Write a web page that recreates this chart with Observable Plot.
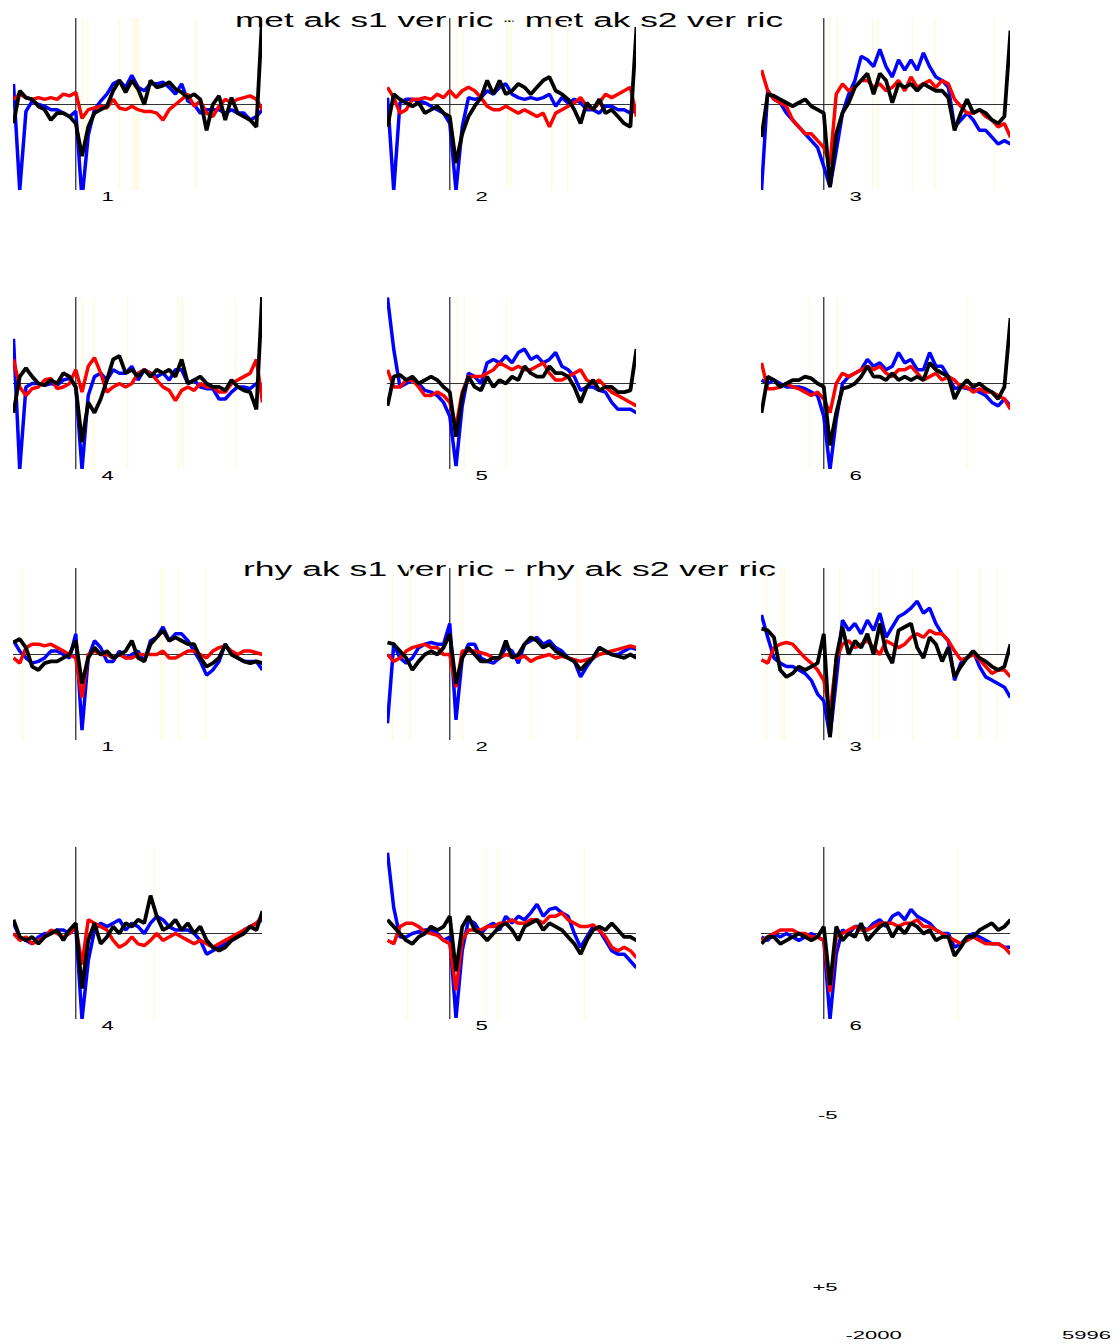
<!DOCTYPE html>
<html>
<head>
<meta charset="utf-8">
<script src="https://cdn.jsdelivr.net/npm/d3@7"></script>
<script src="https://cdn.jsdelivr.net/npm/@observablehq/plot@0.6"></script>
<style>
  html, body { margin: 0; padding: 0; background: #ffffff; }
  #root { position: relative; width: 1120px; height: 1344px; overflow: hidden; background: #ffffff;
          font-family: "Liberation Sans", Arial, sans-serif; }
  #root > svg { position: absolute; }
</style>
</head>
<body>
<div id="root"></div>
<script>
// ---------------- DATA ----------------
const times = [-2000,-1800,-1600,-1400,-1200,-1000,-800,-600,-400,-200,0,200,400,600,800,1000,1200,1400,1600,1800,2000,2200,2400,2600,2800,3000,3200,3400,3600,3800,4000,4200,4400,4600,4800,5000,5200,5400,5600,5800,5996];

const titles = ["met ak s1 ver ric - met ak s2 ver ric", "rhy ak s1 ver ric - rhy ak s2 ver ric"];
const panelNumbers = ["1","2","3","4","5","6"];
const scaleYTicks = [{v: -5, s: "-5"}, {v: 5, s: "+5"}];
const scaleXTicks = [{t: -2000, s: "-2000"}, {t: 5996, s: "5996"}];

// met condition, channels 1..6 (values in µV, positive plotted downward)
const met1Blue  = [-1.2,5,0.4,-0.2,0,0.1,0.3,0.3,0.5,0.7, 0.4,5.5,1.8,0.3,-0.2,-0.6,-1.2,-1.4,-1.0,-1.7, -1.0,-0.8,-1.2,-1.2,-1.3,-1.0,-0.6,-1.2,-0.2,0, 0.5,0.3,0.3,0.3,0.5,0.3,0.5,0.5,0.9,0.7, 0.3];
const met1Red   = [-0.3,-0.6,-0.4,-0.3,-0.4,-0.3,-0.4,-0.3,-0.6,-0.5, -0.7,0.8,0.3,0.2,0.1,0.2,-0.3,0.2,0.3,0.1, 0.3,0.4,0.4,0.5,0.9,0.3,0,-0.3,-0.6,0.1, -0.2,0.5,0.7,0.1,-0.3,-0.1,-0.3,-0.4,-0.5,-0.3, 0.3];
const met1Black = [1.1,-0.8,-0.4,-0.3,0.1,0.3,0.9,0.5,0.5,0.7, 1.1,3.0,1.3,0.5,0.3,0.1,-0.8,-1.4,-0.7,-1.4, -0.9,0,-1.4,-1.0,-1.1,-1.3,-0.9,-0.7,-0.4,-0.6, -0.3,1.5,0,-0.5,0.9,-0.4,0.5,0.7,0.9,1.3, -5.5];

const met2Blue  = [-0.4,5,-0.1,-0.3,-0.3,-0.2,-0.1,0.1,0.3,0.5, 1.1,5,1.3,-0.4,-0.3,-0.4,-0.8,-0.6,-1.0,-1.2, -0.6,-0.4,-0.3,-0.4,-0.3,-0.4,-0.6,0.1,-0.4,-0.1, -0.3,-0.1,0.3,0.3,0.5,0.1,0.1,0.3,0.3,0.5, 0.3];
const met2Red   = [-1.0,-0.4,0.5,0.3,-0.3,-0.3,-0.4,-0.3,-0.6,-0.4, -0.8,-0.4,-0.8,-1.0,-0.8,-0.4,0.1,0.3,0.3,0.1, 0.3,0.5,0.3,0.5,0.7,0.5,1.3,0.5,0.3,0.1, -0.1,-0.4,0.1,0.3,-0.1,-0.6,-0.4,-0.6,-0.8,-1.0, 0.7];
const met2Black = [1.3,-0.6,-0.3,-0.1,0.1,-0.1,0.5,0.3,0.1,0.5, 0.7,3.4,1.7,0.7,0.1,-0.4,-1.4,-0.6,-1.4,-0.6, -0.8,-1.2,-1.0,-0.6,-1.0,-1.4,-1.6,-0.8,-0.6,-0.3, 0.3,1.1,-0.1,0.3,-0.3,0.5,0.3,0.7,1.1,1.3, -4.5];

const met3Blue  = [5,-0.8,-0.3,-0.1,0.5,0.9,1.3,1.7,2.1,2.5, 3.6,4.8,2.7,0.5,-0.6,-1.4,-2.8,-2.6,-2.2,-3.2, -2.2,-1.6,-2.6,-2.0,-2.6,-2.0,-3.0,-2.2,-1.6,-1.4, -1.0,1.3,0.9,0.5,0.9,1.5,1.5,1.9,2.3,2.1, 2.3];
const met3Red   = [-2.0,-0.8,-0.3,-0.1,0.1,0.9,1.3,1.7,1.7,2.1, 2.5,3.5,-0.6,-1.2,-0.8,-1.0,-1.4,-1.4,-1.0,-1.2, -0.8,-1.0,-1.4,-0.8,-1.6,-1.0,-1.2,-1.4,-1.0,-1.4, -1.2,-0.3,0.1,0.5,0.5,0.3,0.7,0.9,1.3,1.1, 1.9];
const met3Black = [1.9,-0.6,-0.5,-0.3,-0.1,0.1,-0.1,-0.3,0.1,0.3, 0.5,4.8,1.7,0.5,-0.1,-1.0,-1.4,-1.8,-0.6,-1.8, -1.4,-0.1,-1.2,-1.0,-1.2,-0.8,-1.2,-1.0,-0.8,-0.8, -0.4,1.5,0.5,-0.3,0.5,0.3,0.5,0.9,1.1,0.7, -4.3];

const met4Blue  = [-2.6,5,0.2,0,0,0.1,0,0.1,-0.2,-0.3, 0.2,5,0.7,-0.4,-0.6,-0.2,-0.8,-0.6,-0.6,-1.0, -0.2,-0.8,-0.6,-0.4,-0.6,-0.2,-0.8,-0.8,0,-0.2, 0.2,0.3,0.3,0.9,0.9,0.5,0.2,0.2,0.3,0, 0.2];
const met4Red   = [-1.4,0.2,0.7,0.3,0.2,-0.2,-0.3,0.3,0.2,0, -0.8,0.5,-1.0,-1.5,-0.6,0.5,0.2,0,0.2,0, -0.6,-0.8,-0.6,-0.2,0.2,0.4,1.0,0.4,0.2,0.4, 0,0.2,0.2,0.5,0.5,0,-0.2,-0.4,-0.6,-1.4, 1.1];
const met4Black = [1.7,-0.4,-0.9,-0.4,0,0.1,-0.2,0,-0.6,-0.4, 0.2,3.4,1.1,1.7,0.9,-0.2,-1.4,-1.6,-0.6,-0.8, -0.4,-0.8,-0.4,-0.8,-0.6,-0.8,-0.4,-1.4,0,-0.2, -0.4,0,0.2,0.2,0.4,-0.2,0.2,0.4,0.5,1.5, -5.5];

const met5Blue  = [-5,-2.0,0.2,0,-0.2,0,0.4,0.5,0.7,1.1, 1.9,4.8,1.3,-0.6,-0.4,0,-1.2,-1.4,-1.2,-1.6, -1.2,-1.8,-2.0,-1.4,-1.6,-1.2,-1.4,-1.8,-1.0,-0.8, -0.4,0.4,0.2,0.2,0.4,0.5,1.1,1.5,1.5,1.5, 1.7];
const met5Red   = [-0.8,0.2,0.2,-0.2,-0.2,0.2,0.7,0.7,0.5,0.7, 1.1,2.5,0.5,-0.4,-0.4,-0.4,-0.6,-0.8,-1.2,-1.0, -0.8,-1.0,-0.8,-0.8,-1.0,-1.2,-0.6,-0.2,-0.2,-0.4, -0.6,-0.8,-0.2,0,-0.2,0.2,0.5,0.7,0.9,1.1, 1.3];
const met5Black = [1.3,-0.4,-0.5,-0.2,-0.4,0,-0.2,-0.4,-0.2,0.2, 0.5,3.1,0.7,-0.4,0.2,0.4,-0.4,0.2,-0.2,0, -0.4,-0.2,-1.0,-0.6,-0.4,-0.4,-1.0,-0.6,-0.6,-0.4, 0.2,1.1,0.2,-0.2,0.4,0.2,0.2,0.5,0.5,0.4, -2.0];

const met6Blue  = [-0.2,0,-0.2,0,0.2,0.2,0.2,0.3,0.5,0.7, 1.9,5,2.1,0,-0.4,-0.6,-0.8,-1.4,-1.0,-1.2, -0.8,-1.0,-1.8,-1.2,-1.4,-0.8,-0.8,-1.8,-1.0,-1.0, -0.4,0.3,0.2,0.3,0.3,0.5,0.7,1.1,1.3,0.9, 1.3];
const met6Red   = [-1.2,0.3,0.3,0.2,0,0.2,0.3,0.5,0.7,0.5, 0.9,1.7,0,-0.6,-0.4,-0.6,-0.8,-1.0,-0.8,-1.0, -0.6,-0.4,-0.8,-0.8,-1.0,-0.6,-0.2,-0.4,-0.6,-0.2, -0.4,-0.2,0.2,0.2,0.5,0.3,0.5,0.5,0.7,0.9, 1.5];
const met6Black = [1.7,-0.4,-0.2,0.2,0,-0.2,-0.2,-0.4,-0.3,0, 0.2,3.6,1.7,0.3,0.2,0,-0.4,-1.0,-0.4,-0.4, -0.2,-0.6,-0.2,-0.4,-0.2,-0.4,-0.2,-1.2,-0.8,-0.6, -0.4,0.9,0.2,-0.2,0.2,0,0.3,0.5,0.9,0.2, -3.8];

// rhy condition, channels 1..6
const rhy1Blue  = [-0.8,-0.2,0.2,0.5,0.4,0.2,-0.2,-0.2,0,0.2, -1.2,4.4,0.2,-0.8,-0.4,0.4,0.4,-0.2,0.2,0, -0.2,0.4,-0.8,-1.0,-1.6,-0.8,-1.2,-1.2,-0.8,-0.2, 0.4,1.2,0.9,0.4,-0.6,0,0.2,0.4,0.4,0.4, 0.9];
const rhy1Red   = [0.2,0.5,-0.4,-0.6,-0.6,-0.5,-0.6,-0.4,-0.2,0, 0.2,2.5,0,-0.2,0,0,0.2,0,0.2,0.2, 0,0,0,0,-0.2,0.2,0.2,0,-0.2,-0.2, 0,0.2,-0.2,-0.4,-0.5,-0.2,0,-0.2,-0.2,-0.1, 0];
const rhy1Black = [-0.7,-0.9,-0.4,0.7,0.9,0.5,0.4,0.4,0.2,0, -0.8,1.7,0.2,-0.4,0,-0.2,0.2,0,-0.2,-0.8, 0.2,0.4,-0.6,-1.0,-1.4,-0.8,-1.0,-0.8,-0.6,-0.6, 0.2,0.7,0.5,0.2,-0.6,0,0.2,0.4,0.5,0.4, 0.5];

const rhy2Blue  = [4.0,-0.6,0.2,0.5,0.2,-0.4,-0.6,-0.7,-0.6,-0.6, -1.8,3.8,0.2,-0.6,-0.6,0.2,0.4,0.5,0.2,-0.4, -0.2,0.5,-0.6,-0.8,-1.0,-0.6,-0.8,-0.4,-0.2,0.2, 0.4,1.3,0.7,0.2,-0.4,-0.2,0,0,-0.2,-0.4, -0.3];
const rhy2Red   = [0,0.4,0.2,-0.2,-0.4,-0.5,-0.6,-0.4,-0.4,0, 0,1.9,-0.2,-0.2,-0.2,-0.1,0,0.2,0.2,0, 0.1,0.2,0.1,0.4,0.2,0.1,0,0.2,0.1,0.2, 0.3,0.4,0.3,0.2,0,-0.1,-0.2,-0.3,-0.4,-0.5, -0.4];
const rhy2Black = [-0.7,-0.6,-0.2,0.2,0.9,0.4,0,-0.2,0,-0.4, -1.2,1.7,0.2,-0.4,0,0.4,0.4,0.2,0.2,-0.8, 0.2,0,-0.6,-1.0,-0.8,-0.4,-0.6,-0.2,0,0.2, 0.4,0.9,0.5,0.2,-0.4,-0.2,0,0.1,0.2,0, 0.2];

const rhy3Blue  = [-2.3,-1.0,0.2,0.5,0.7,0.7,0.9,1.1,1.5,2.3, 2.7,4.8,1.5,-2.0,-1.4,-1.8,-1.2,-2.0,-1.4,-2.4, -1.0,-1.6,-2.2,-2.4,-2.7,-3.1,-2.4,-2.7,-1.8,-1.2, -0.8,1.5,0.5,0.2,-0.2,0.7,1.3,1.5,1.7,1.9, 2.5];
const rhy3Red   = [0.3,0.5,-0.4,-0.6,-0.7,-0.6,-0.2,0.2,0.5,0.9, 1.5,3.4,0.3,-0.6,-0.8,-0.4,-0.6,-0.8,-0.4,0, -0.8,-0.6,-0.4,-0.6,-1.0,-1.2,-1.0,-1.4,-1.2,-1.2, -0.8,-0.2,0.3,0.2,0,0.3,0.7,1.1,0.9,0.9, 1.3];
const rhy3Black = [-1.5,-1.4,-1.0,0.9,1.3,1.1,0.7,0.9,0.7,0.5, -1.2,4.8,0.2,-1.6,0,-0.8,-0.4,-1.2,0,-1.8, -0.2,0.5,-1.4,-1.6,-1.8,-0.4,0.2,-1.0,-0.6,0.4, -0.4,1.3,0.7,0.2,-0.2,0.2,0.4,0.7,0.9,0.7, -0.6];

const rhy4Blue  = [-0.6,0.2,0.4,0.6,0.2,0,0,-0.2,-0.2,0, -0.4,5,1.6,-0.2,-0.6,-0.4,-0.6,-0.8,-0.2,-0.6, -0.4,0,-0.6,-1.0,-0.8,-0.4,-0.2,-0.2,-0.2,0, 0.4,1.2,1.0,0.8,0.6,0.4,0.2,-0.2,-0.4,-0.6, -0.8];
const rhy4Red   = [0,0.4,0.2,0.6,0.4,0.2,-0.2,0,0.2,0, -0.4,1.8,-0.8,-0.6,-0.4,-0.2,0.4,0.8,0.6,0.2, 0.6,0.7,0.4,0,0.4,0.2,0,0.2,0.4,0.6, 0.4,0.6,0.8,0.6,0.4,0.2,0,-0.2,-0.4,-0.6, -1.0];
const rhy4Black = [-0.8,0.2,0.4,0.2,0.6,0.2,0,-0.2,0.4,-0.2, -0.6,3.2,0.4,-0.6,0.6,0.2,-0.4,0,-0.6,-0.4, -0.8,-0.6,-2.2,-1.0,-0.2,-0.4,-0.8,-0.2,-0.6,0, -0.4,0.4,0.8,1.0,0.8,0.4,0.2,0,-0.4,-0.2, -1.3];

const rhy5Blue  = [-4.7,-1.5,0.2,0.2,0,-0.1,-0.2,-0.2,0,0.4, 0.2,4.9,1.0,-0.8,-0.6,0,-0.4,-0.6,-0.2,-1.0, -0.6,-1.0,-0.8,-1.2,-1.7,-1.0,-1.4,-1.5,-1.2,-1.0, 0,0.8,0.2,-0.4,-0.2,0.4,1.0,1.2,1.2,1.6, 2.0];
const rhy5Red   = [0.4,0.6,-0.4,-0.6,-0.6,-0.4,-0.1,0,0.1,0.4, 0.6,3.3,0.4,-0.2,-0.2,-0.2,-0.4,-0.4,-0.6,-0.6, -0.8,-0.6,-0.6,-0.8,-0.8,-0.6,-1.0,-1.0,-1.2,-0.8, -0.6,-0.4,-0.4,-0.5,-0.2,0.2,0.8,1.0,0.8,1.0, 1.4];
const rhy5Black = [-0.8,-0.4,0,0.4,0.6,0.2,0,-0.4,-0.2,-0.4, -1.0,2.2,-0.4,-1.0,-0.2,0,0.4,0,-0.4,-0.6, -0.2,0.4,-0.4,-0.6,-0.8,-0.2,-0.6,-0.4,-0.2,0.2, 0.6,1.2,0.4,-0.2,-0.4,-0.2,-0.6,-0.2,0.2,0.2, 0.4];

const rhy6Blue  = [0.2,0.4,0,0.2,0,0.2,0.4,0.2,0,0.2, 0.4,5,1.2,-0.2,0,-0.4,-0.4,-0.2,-0.6,-0.8, -0.4,-1.0,-1.2,-0.8,-1.4,-1.0,-0.8,-0.6,-0.2,0, 0,0.8,0.6,0.2,0,0.2,0.4,0.6,0.6,0.8, 0.8];
const rhy6Red   = [0.4,0.2,0,-0.2,-0.2,-0.2,0,0,0.2,0.2, 0.4,3.4,0.2,0,-0.2,-0.4,-0.2,-0.2,-0.4,-0.6, -0.6,-0.6,-0.4,-0.6,-0.6,-0.8,-0.4,-0.4,-0.2,0, 0.2,0.4,0.6,0.4,0.2,0.4,0.6,0.6,0.6,0.8, 1.2];
const rhy6Black = [0.6,0.2,0.2,0.6,0.4,0.2,0,0.2,0.4,0.2, -0.4,3.0,-0.4,0.4,0,0.2,-0.6,0.4,0,-0.4, -0.6,0.2,-0.4,0,-0.6,-0.4,0,-0.2,0.4,0.2, 0.2,1.3,0.8,0.2,0.2,-0.2,-0.4,-0.6,-0.2,-0.4, -0.8];

// significance markers (ms) shown as faint yellow lines
const met1Sig = [220, 380, 1400, 1850, 1930, 2010, 3850];
const met2Sig = [220, 440, 1850, 1980, 3270, 3780];
const met3Sig = [190, 420, 1580, 1740, 2850, 3560, 5480];
const met4Sig = [220, 570, 1660, 3300, 3430, 5130];
const met5Sig = [220, 470, 1820];
const met6Sig = [-460, 420, 4590];
const rhy1Sig = [-1710, 2720, 2790, 3300, 4170];
const rhy2Sig = [-1840, -1290, 410, 2620, 4100];
const rhy3Sig = [-1840, -1360, -1260, 500, 1570, 1790, 2850, 4300, 5000, 5550];
const rhy4Sig = [2500];
const rhy5Sig = [-1360, 1180, 1530, 4330];
const rhy6Sig = [4300];

const labelTime = 1020;

// ---------------- LAYOUT ----------------
const colLefts = [13, 387, 761];
const rowTops = [18, 297, 567.5, 847];
const panelW = 249, panelH = 172;
const mL = 6, mR = 6, mT = 4, mB = 18;

const panels = [
  {num: panelNumbers[0], row: 0, col: 0, blue: met1Blue, red: met1Red, black: met1Black, sig: met1Sig},
  {num: panelNumbers[1], row: 0, col: 1, blue: met2Blue, red: met2Red, black: met2Black, sig: met2Sig},
  {num: panelNumbers[2], row: 0, col: 2, blue: met3Blue, red: met3Red, black: met3Black, sig: met3Sig},
  {num: panelNumbers[3], row: 1, col: 0, blue: met4Blue, red: met4Red, black: met4Black, sig: met4Sig},
  {num: panelNumbers[4], row: 1, col: 1, blue: met5Blue, red: met5Red, black: met5Black, sig: met5Sig},
  {num: panelNumbers[5], row: 1, col: 2, blue: met6Blue, red: met6Red, black: met6Black, sig: met6Sig},
  {num: panelNumbers[0], row: 2, col: 0, blue: rhy1Blue, red: rhy1Red, black: rhy1Black, sig: rhy1Sig},
  {num: panelNumbers[1], row: 2, col: 1, blue: rhy2Blue, red: rhy2Red, black: rhy2Black, sig: rhy2Sig},
  {num: panelNumbers[2], row: 2, col: 2, blue: rhy3Blue, red: rhy3Red, black: rhy3Black, sig: rhy3Sig},
  {num: panelNumbers[3], row: 3, col: 0, blue: rhy4Blue, red: rhy4Red, black: rhy4Black, sig: rhy4Sig},
  {num: panelNumbers[4], row: 3, col: 1, blue: rhy5Blue, red: rhy5Red, black: rhy5Black, sig: rhy5Sig},
  {num: panelNumbers[5], row: 3, col: 2, blue: rhy6Blue, red: rhy6Red, black: rhy6Black, sig: rhy6Sig}
];

const FONT = "'Liberation Sans', Arial, Helvetica, sans-serif";
const root = document.getElementById("root");

// titles (behind the panels)
const overlay = d3.create("svg")
  .attr("width", 1120).attr("height", 1344)
  .style("left", "0px").style("top", "0px");
const titleSpecs = [
  {text: titles[0], x: 509, y: 27, w: 548},
  {text: titles[1], x: 509.5, y: 576, w: 533}
];
for (const t of titleSpecs) {
  overlay.append("text")
    .attr("x", t.x).attr("y", t.y)
    .attr("text-anchor", "middle")
    .attr("font-family", FONT)
    .attr("font-size", 20)
    .attr("fill", "#000")
    .attr("textLength", t.w)
    .attr("lengthAdjust", "spacingAndGlyphs")
    .text(t.text);
}
root.appendChild(overlay.node());

function stretchTexts(svg, factor) {
  svg.querySelectorAll('g[aria-label="text"] text').forEach(el => {
    const L = el.getComputedTextLength();
    if (L > 0) {
      el.setAttribute("textLength", (L * factor).toFixed(2));
      el.setAttribute("lengthAdjust", "spacingAndGlyphs");
    }
  });
}

for (const p of panels) {
  const mk = arr => times.map((t, i) => ({t, v: arr[i]}));
  const chart = Plot.plot({
    width: panelW + mL + mR,
    height: panelH + mT + mB,
    marginLeft: mL, marginRight: mR, marginTop: mT, marginBottom: mB,
    x: {domain: [-2000, 5996], axis: null},
    y: {domain: [-5, 5], reverse: true, axis: null},
    style: {background: "none", overflow: "visible", fontFamily: FONT},
    marks: [
      Plot.ruleX(p.sig, {stroke: "#fefbe2", strokeWidth: 2}),
      Plot.ruleY([0], {stroke: "#333", strokeWidth: 1}),
      Plot.ruleX([0], {stroke: "#222", strokeWidth: 1.2}),
      Plot.line(mk(p.blue),  {x: "t", y: "v", stroke: "#0000ff", strokeWidth: 3.5, clip: true, strokeLinejoin: "miter", strokeLinecap: "butt"}),
      Plot.line(mk(p.red),   {x: "t", y: "v", stroke: "#ff0000", strokeWidth: 3.5, clip: true, strokeLinejoin: "miter", strokeLinecap: "butt"}),
      Plot.line(mk(p.black), {x: "t", y: "v", stroke: "#000000", strokeWidth: 3.8, clip: true, strokeLinejoin: "miter", strokeLinecap: "butt"}),
      Plot.text([{t: labelTime, v: 5, s: p.num}], {x: "t", y: "v", text: "s", lineAnchor: "top", dy: 1, fontSize: 13, fill: "#000"})
    ]
  });
  chart.style.left = (colLefts[p.col] - mL) + "px";
  chart.style.top = (rowTops[p.row] - mT) + "px";
  chart.style.position = "absolute";
  root.appendChild(chart);
  stretchTexts(chart, 1.7);
}

// scale key (bottom right)
const sL = 70, sR = 30, sT = 10, sB = 58;
const scale = Plot.plot({
  width: 213 + sL + sR,
  height: 171.5 + sT + sB,
  marginLeft: sL, marginRight: sR, marginTop: sT, marginBottom: sB,
  x: {domain: [-2000, 5996], axis: null},
  y: {domain: [-5, 5], reverse: true, axis: null},
  style: {background: "none", overflow: "visible", fontFamily: FONT},
  marks: [
    Plot.text(scaleYTicks, {y: "v", text: "s", frameAnchor: "left", textAnchor: "end", dx: -36, fontSize: 11, fill: "#000"}),
    Plot.text(scaleXTicks, {x: "t", text: "s", frameAnchor: "bottom", dy: 52, fontSize: 11, fill: "#000"})
  ]
});
scale.style.position = "absolute";
scale.style.left = (873 - sL) + "px";
scale.style.top = (1114.5 - sT) + "px";
root.appendChild(scale);
stretchTexts(scale, 2.0);
</script>
</body>
</html>
